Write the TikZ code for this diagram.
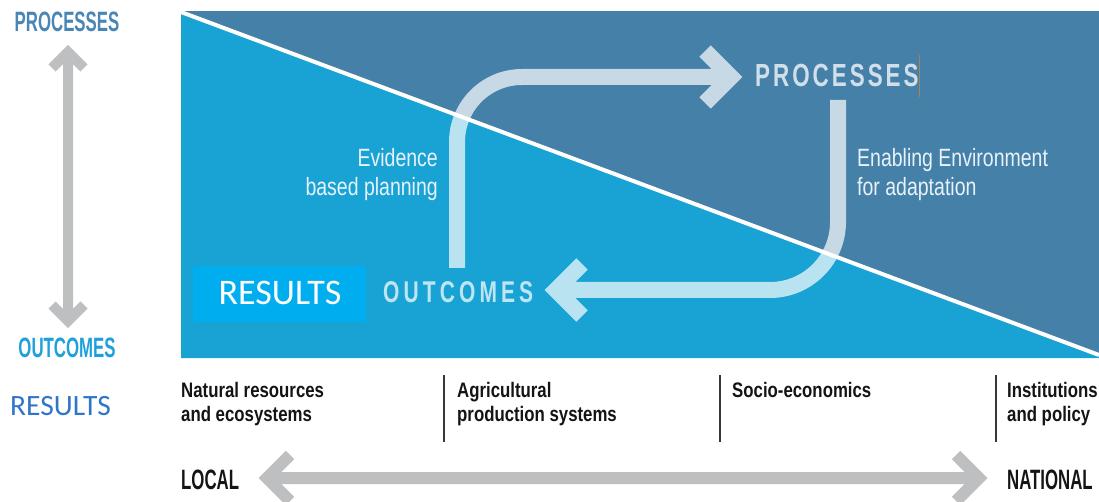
\documentclass[tikz,border=0pt]{standalone}
\usepackage{fontspec}
\setmainfont{Liberation Sans}
\newfontfamily\headfont[FakeStretch=0.6]{Liberation Sans}
\newfontfamily\panelfont[FakeStretch=0.7]{Liberation Sans}
\newfontfamily\bodyfont[FakeStretch=0.78]{Liberation Sans}
\newfontfamily\labfont[FakeStretch=0.8]{Liberation Sans}
\newfontfamily\calfont{Carlito}
\definecolor{darkpanel}{HTML}{4580A8}
\definecolor{lightpanel}{HTML}{18A3D4}
\definecolor{arrowgray}{HTML}{BEBFC1}
\definecolor{procblue}{HTML}{4A86B4}
\definecolor{outblue}{HTML}{1EA0DC}
\definecolor{resblue}{HTML}{2F75C8}
\definecolor{resbox}{HTML}{00AEEF}
\definecolor{paneltext}{HTML}{E8F2F8}
\definecolor{labtext}{HTML}{141414}
\begin{document}
\begin{tikzpicture}[x=1pt,y=-1pt,
  grayarrow/.style={draw=arrowgray, line width=10pt, line join=miter},
  bottomarrow/.style={draw=arrowgray, line width=12pt, line join=miter},
  looparrow/.style={draw=white, draw opacity=0.7, line width=16pt, line join=miter},
  headtext/.style={font=\headfont\bfseries\fontsize{28}{30}\selectfont, inner sep=0pt},
  bodytext/.style={font=\bodyfont\fontsize{25}{29}\selectfont, inner sep=0pt, text=paneltext},
  labtextstyle/.style={font=\labfont\bfseries\fontsize{21}{24}\selectfont, inner sep=0pt, text=labtext},
  sepline/.style={draw=labtext!85, line width=1.1pt}]
\useasboundingbox (0,0) rectangle (1099,502);
% panel
\fill[darkpanel] (181,11) rectangle (1099,358);
\fill[lightpanel] (181,12) -- (1099,356) -- (1099,358) -- (181,358) -- cycle;
\coordinate (dA) at (181,12);
\coordinate (dB) at (1099,355);
\draw[white, line width=4pt] (dA) -- (dB);
% left vertical gray arrow
\coordinate (vt) at (68,52);
\coordinate (vb) at (68,321);
\coordinate (vta) at (52,68);
\coordinate (vtb) at (84,68);
\coordinate (vba) at (52,305);
\coordinate (vbb) at (84,305);
\draw[grayarrow] (vt) -- (vb) (vta) -- (vt) -- (vtb) (vba) -- (vb) -- (vbb);
% bottom horizontal gray arrow
\coordinate (hl) at (267,478);
\coordinate (hr) at (979,478);
\coordinate (hla) at (290,455);
\coordinate (hlb) at (290,501);
\coordinate (hra) at (956,455);
\coordinate (hrb) at (956,501);
\draw[bottomarrow] (hl) -- (hr) (hla) -- (hl) -- (hlb) (hra) -- (hr) -- (hrb);
% loop arrows
\coordinate (up0) at (457,268);
\coordinate (uptip) at (731,77);
\coordinate (upa) at (705,51);
\coordinate (upb) at (705,103);
\draw[looparrow, rounded corners=65pt] (up0) |- (uptip) [sharp corners] (upa) -- (uptip) -- (upb);
\coordinate (dn0) at (838,100);
\coordinate (dntip) at (556,290);
\coordinate (dna) at (582,264);
\coordinate (dnb) at (582,316);
\draw[looparrow, rounded corners=68pt] (dn0) |- (dntip) [sharp corners] (dna) -- (dntip) -- (dnb);
% left side labels
\node[headtext, text=procblue, anchor=base] (lproc) at (67,32) {PROCESSES};
\node[headtext, text=outblue, anchor=base] (lout) at (67,357) {OUTCOMES};
\node[font=\calfont\fontsize{29.5}{32}\selectfont, text=resblue, inner sep=0pt, anchor=base west] (lres) at (10,415) {RESULTS};
% results box
\node[fill=resbox, minimum width=173pt, minimum height=56pt, inner sep=0pt, anchor=north west] (rbox) at (193,266) {};
\node[font=\calfont\fontsize{36}{40}\selectfont, text=white, inner sep=0pt, anchor=base] (rtext) at (280,305) {RESULTS};
% panel headings
\node[font=\panelfont\bfseries\fontsize{30}{32}\selectfont, text=white, text opacity=0.72, inner sep=0pt, anchor=base west] (pout) at (383,302)
  {O\kern4.1pt U\kern4.1pt T\kern4.1pt C\kern4.1pt O\kern4.1pt M\kern4.1pt E\kern4.1pt S};
\node[font=\panelfont\bfseries\fontsize{32}{34}\selectfont, text=white, text opacity=0.75, inner sep=0pt, anchor=base west] (pproc) at (755,87)
  {P\kern3pt R\kern3pt O\kern3pt C\kern3pt E\kern3pt S\kern3pt S\kern3pt E\kern3pt S};
\coordinate (cur1) at (919,55);
\coordinate (cur2) at (919,97);
\draw[draw=brown!70!gray, line width=0.9pt] (cur1) -- (cur2);
% panel body texts
\node[bodytext, anchor=base east, align=right] (evid) at (438,196) {Evidence\\based planning};
\node[bodytext, anchor=base west, align=left] (enab) at (857,196) {Enabling Environment\\for adaptation};
% bottom labels
\node[labtextstyle, anchor=base west, align=left] (nat) at (181,421) {Natural resources\\and ecosystems};
\node[labtextstyle, anchor=base west, align=left] (agr) at (457,421) {Agricultural\\production systems};
\node[labtextstyle, anchor=base west, align=left] (soc) at (732,397) {Socio-economics};
\node[labtextstyle, anchor=base west, align=left] (ins) at (1007,421) {Institutions\\and policy};
\coordinate (s1t) at (444,375); \coordinate (s1b) at (444,442);
\coordinate (s2t) at (720,375); \coordinate (s2b) at (720,442);
\coordinate (s3t) at (996,375); \coordinate (s3b) at (996,442);
\draw[sepline] (s1t) -- (s1b) (s2t) -- (s2b) (s3t) -- (s3b);
\node[headtext, text=labtext, anchor=base west] (loc) at (181,489) {LOCAL};
\node[headtext, text=labtext, anchor=base west] (nati) at (1007,489) {NATIONAL};
\end{tikzpicture}
\end{document}
